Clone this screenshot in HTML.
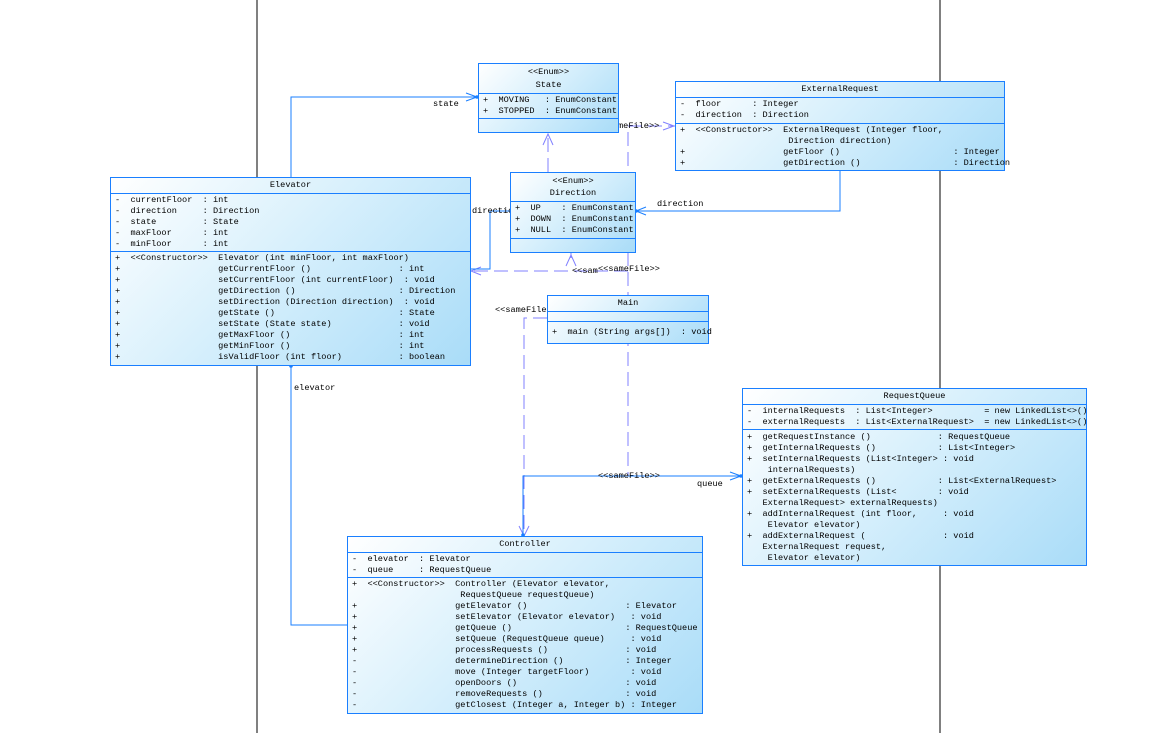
<!DOCTYPE html>
<html><head><meta charset="utf-8"><style>
body{margin:0;width:1164px;height:733px;background:#fff;position:relative;overflow:hidden;font-family:"Liberation Mono",monospace;font-size:8.6px;color:#000}
.b{position:absolute;border:1px solid #1a7fff;background:linear-gradient(135deg,#ffffff 0%,#d8f0fc 45%,#a9dcf8 100%);box-sizing:border-box}
.s{position:absolute;left:0;right:0;border-top:1px solid #1a7fff}
.t{position:absolute;white-space:pre;line-height:11px}
.c{position:absolute;left:0;right:0;text-align:center;white-space:pre;line-height:11px}
svg{position:absolute;left:0;top:0}
</style></head><body>
<svg width="1164" height="733">
<line x1="257" y1="0" x2="257" y2="733" stroke="#000"/>
<line x1="940" y1="0" x2="940" y2="733" stroke="#000"/>
<g stroke="#8080ff" fill="none" stroke-dasharray="14,6">
<line x1="548" y1="172" x2="548" y2="134"/>
<line x1="628" y1="132" x2="628" y2="476"/>
<line x1="571" y1="252" x2="571" y2="258"/>
<polyline points="628,271 470,271"/>
<polyline points="547,318 524,318 524,536"/>
<line x1="628" y1="126" x2="675" y2="126"/>
</g>
<g stroke="#8080ff" fill="none">
<polyline points="543,145 548,134 553,145"/>
<polyline points="566,266 571,255 576,266"/>
<polyline points="663,122 674,126 663,130"/>
<polyline points="481,267 471,271 481,275"/>
<polyline points="519,526 524,536 529,526"/>
</g>
<g stroke="#1a7fff" fill="none">
<polyline points="291,177 291,97 478,97"/>
<polyline points="840,170 840,211 635,211"/>
<polyline points="510,211 490,211 490,269 470,269"/>
<polyline points="523,536 523,476 742,476"/>
<polyline points="347,625 291,625 291,365"/>
<polyline points="730,472 741,476 730,480"/>
<polyline points="646,207 636,211 646,215"/>
<polyline points="466,93 477,97 466,101"/>
</g>
<g fill="#1a7fff"><circle cx="477" cy="97" r="1.8"/><circle cx="636" cy="211" r="1.8"/><circle cx="741" cy="476" r="1.8"/><circle cx="291" cy="366" r="1.8"/><circle cx="523" cy="535" r="1.8"/></g>
</svg>
<div class="t" style="left:433px;top:99px">state</div>
<div class="t" style="left:657px;top:199px">direction</div>
<div class="t" style="left:472px;top:206px">directio</div>
<div class="t" style="left:294px;top:383px">elevator</div>
<div class="t" style="left:697px;top:479px">queue</div>
<div class="t" style="left:618px;top:121px">meFile&gt;&gt;</div>
<div class="t" style="left:572px;top:266px">&lt;&lt;sam</div>
<div class="t" style="left:598px;top:264px">&lt;&lt;sameFile&gt;&gt;</div>
<div class="t" style="left:495px;top:305px">&lt;&lt;sameFile</div>
<div class="t" style="left:598px;top:471px">&lt;&lt;sameFile&gt;&gt;</div>

<div class="b" style="left:478px;top:63px;width:141px;height:70px">
<div class="c" style="top:3px">&lt;&lt;Enum&gt;&gt;</div><div class="c" style="top:16px">State</div>
<div class="s" style="top:29px"></div>
<div class="t" style="left:4px;top:31px">+  MOVING   : EnumConstant
+  STOPPED  : EnumConstant</div>
<div class="s" style="top:54px"></div></div>

<div class="b" style="left:510px;top:172px;width:126px;height:81px">
<div class="c" style="top:3px">&lt;&lt;Enum&gt;&gt;</div><div class="c" style="top:15px">Direction</div>
<div class="s" style="top:28px"></div>
<div class="t" style="left:4px;top:30px">+  UP    : EnumConstant
+  DOWN  : EnumConstant
+  NULL  : EnumConstant</div>
<div class="s" style="top:65px"></div></div>

<div class="b" style="left:675px;top:81px;width:330px;height:90px">
<div class="c" style="top:2px">ExternalRequest</div>
<div class="s" style="top:15px"></div>
<div class="t" style="left:4px;top:17px">-  floor      : Integer
-  direction  : Direction</div>
<div class="s" style="top:41px"></div>
<div class="t" style="left:4px;top:43px">+  &lt;&lt;Constructor&gt;&gt;  ExternalRequest (Integer floor,
                     Direction direction)
+                   getFloor ()                      : Integer
+                   getDirection ()                  : Direction</div></div>

<div class="b" style="left:110px;top:177px;width:361px;height:189px">
<div class="c" style="top:2px">Elevator</div>
<div class="s" style="top:15px"></div>
<div class="t" style="left:4px;top:17px">-  currentFloor  : int
-  direction     : Direction
-  state         : State
-  maxFloor      : int
-  minFloor      : int</div>
<div class="s" style="top:73px"></div>
<div class="t" style="left:4px;top:75px">+  &lt;&lt;Constructor&gt;&gt;  Elevator (int minFloor, int maxFloor)
+                   getCurrentFloor ()                 : int
+                   setCurrentFloor (int currentFloor)  : void
+                   getDirection ()                    : Direction
+                   setDirection (Direction direction)  : void
+                   getState ()                        : State
+                   setState (State state)             : void
+                   getMaxFloor ()                     : int
+                   getMinFloor ()                     : int
+                   isValidFloor (int floor)           : boolean</div></div>

<div class="b" style="left:547px;top:295px;width:162px;height:49px">
<div class="c" style="top:2px">Main</div>
<div class="s" style="top:15px"></div>
<div class="s" style="top:25px"></div>
<div class="t" style="left:4px;top:31px">+  main (String args[])  : void</div></div>

<div class="b" style="left:742px;top:388px;width:345px;height:178px">
<div class="c" style="top:2px">RequestQueue</div>
<div class="s" style="top:15px"></div>
<div class="t" style="left:4px;top:17px">-  internalRequests  : List&lt;Integer&gt;          = new LinkedList&lt;&gt;()
-  externalRequests  : List&lt;ExternalRequest&gt;  = new LinkedList&lt;&gt;()</div>
<div class="s" style="top:40px"></div>
<div class="t" style="left:4px;top:43px">+  getRequestInstance ()             : RequestQueue
+  getInternalRequests ()            : List&lt;Integer&gt;
+  setInternalRequests (List&lt;Integer&gt; : void
    internalRequests)
+  getExternalRequests ()            : List&lt;ExternalRequest&gt;
+  setExternalRequests (List&lt;        : void
   ExternalRequest&gt; externalRequests)
+  addInternalRequest (int floor,     : void
    Elevator elevator)
+  addExternalRequest (               : void
   ExternalRequest request,
    Elevator elevator)</div></div>

<div class="b" style="left:347px;top:536px;width:356px;height:178px">
<div class="c" style="top:2px">Controller</div>
<div class="s" style="top:15px"></div>
<div class="t" style="left:4px;top:17px">-  elevator  : Elevator
-  queue     : RequestQueue</div>
<div class="s" style="top:40px"></div>
<div class="t" style="left:4px;top:42px">+  &lt;&lt;Constructor&gt;&gt;  Controller (Elevator elevator,
                     RequestQueue requestQueue)
+                   getElevator ()                   : Elevator
+                   setElevator (Elevator elevator)   : void
+                   getQueue ()                      : RequestQueue
+                   setQueue (RequestQueue queue)     : void
+                   processRequests ()               : void
-                   determineDirection ()            : Integer
-                   move (Integer targetFloor)        : void
-                   openDoors ()                     : void
-                   removeRequests ()                : void
-                   getClosest (Integer a, Integer b) : Integer</div></div>
</body></html>
